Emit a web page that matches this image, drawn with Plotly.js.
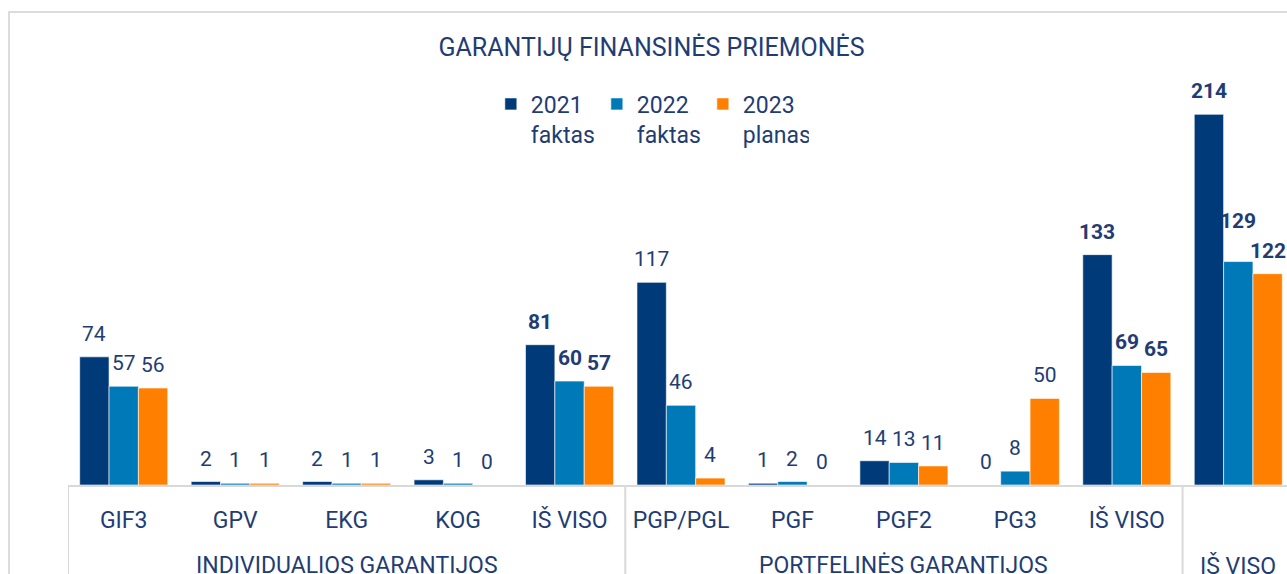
<!DOCTYPE html>
<html>
<head>
<meta charset="utf-8">
<script src="https://cdn.plot.ly/plotly-3.0.1.min.js"></script>
<style>
html,body{margin:0;padding:0;background:#fff;overflow:hidden;width:1287px;height:574px;}
#frame{position:absolute;left:8px;top:11px;border:2px solid #dcdcdc;width:1320px;height:640px;}
#chart{position:absolute;left:0;top:0;}
</style>
</head>
<body>
<div id="frame"><div id="chart"></div></div>
<script>
// ---- data ----
const categories = ["GIF3","GPV","EKG","KOG","IŠ VISO","PGP/PGL","PGF","PGF2","PG3","IŠ VISO",""];
const groups = ["INDIVIDUALIOS GARANTIJOS","PORTFELINĖS GARANTIJOS","IŠ VISO"];
const groupSizes = [5,5,1];
const isTotal = [false,false,false,false,true,false,false,false,false,true,true];
const seriesNames = ["2021<br>faktas","2022<br>faktas","2023<br>planas"];
const v2021 = [74,2,2,3,81,117,1,14,0,133,214];
const v2022 = [57,1,1,1,60,46,2,13,8,69,129];
const v2023 = [56,1,1,0,57,4,0,11,50,65,122];
const colors = ["#003a79","#0079b9","#ff7f00"];

const txtColor = "#1f3d73";
const font = "Roboto, 'Open Sans', sans-serif";
const FS = 23, NFS = 21;
const xs = categories.map((c,i)=>i);
const series = [v2021,v2022,v2023];
const bargap = 0.21;

// layout geometry
const W = 1295, H = 620, M = {l:58, r:10.5, t:38.5, b:148};
const yMax = 250;
const plotW = W - M.l - M.r, plotH = H - M.t - M.b;
const pxPerY = plotH / yMax, pxPerX = plotW / categories.length;

const traces = series.map((vals,k)=>({
  type:"bar",
  name: seriesNames[k],
  x: xs,
  y: vals,
  marker:{color:colors[k], line:{color:"#ffffff", width:0.6}},
  hoverinfo:"x+y"
}));

const annotations = [];
const shapes = [];

// value labels above bars, with simple collision avoidance (lift a label over its right neighbour)
const w = (1 - bargap) / series.length;
const baseShift = 9, capH = 0.72 * NFS, labelGap = 15;
categories.forEach((c,i)=>{
  const shifts = [];
  for (let k = series.length-1; k >= 0; k--) {
    const v = series[k][i];
    let shift = baseShift;
    if (k < series.length-1) {
      const vr = series[k+1][i];
      const wl = String(v).length * 0.58 * NFS, wr = String(vr).length * 0.58 * NFS;
      const dx = w * pxPerX;
      const rightTop = vr * pxPerY + shifts[k+1] + capH + 6;
      const myBottom = v * pxPerY + shift + 6;
      if (dx < (wl + wr)/2 && myBottom < rightTop + 4) {
        shift = rightTop + labelGap - v * pxPerY - 6;
      }
    }
    shifts[k] = shift;
  }
  series.forEach((vals,k)=>{
    const v = vals[i];
    annotations.push({
      text: isTotal[i] ? "<b>"+v+"</b>" : String(v),
      x: i + (k - (series.length-1)/2) * w, xref:"x",
      y: v, yref:"y", yanchor:"bottom", yshift:shifts[k], showarrow:false,
      font:{family:font, size:NFS, color:txtColor}
    });
  });
});

// group labels & separators
let start = 0;
groups.forEach((g,gi)=>{
  const n = groupSizes[gi];
  annotations.push({
    text:g, x:start + (n-1)/2, xref:"x", y:0, yref:"paper",
    yanchor:"top", yshift:-65, showarrow:false,
    font:{family:font, size:FS, color:txtColor}
  });
  shapes.push({type:"line", xref:"x", yref:"paper", x0:start-0.5, x1:start-0.5, y0:0, y1:-0.4,
    line:{color:"#d9d9d9", width:2}});
  start += n;
});

const layout = {
  width:W, height:H,
  margin:{l:M.l, r:M.r, t:M.t, b:M.b, autoexpand:false},
  paper_bgcolor:"rgba(0,0,0,0)", plot_bgcolor:"rgba(0,0,0,0)",
  title:{text:"GARANTIJŲ FINANSINĖS PRIEMONĖS", font:{family:font, size:25, color:txtColor},
    x:0.4954, xref:"container", xanchor:"center", y:1, yref:"container", yanchor:"top", pad:{t:25}},
  barmode:"group", bargap:bargap, bargroupgap:0,
  showlegend:true,
  legend:{orientation:"h", x:0.3449, xanchor:"left", xref:"paper", y:0.9296, yref:"paper", yanchor:"top",
    font:{family:font, size:FS, color:txtColor}, valign:"top", entrywidth:61, entrywidthmode:"pixels",
    itemclick:false, bgcolor:"rgba(0,0,0,0)", tracegroupgap:0, traceorder:"normal"},
  xaxis:{range:[-0.5,categories.length-0.5], tickvals:xs, ticktext:categories, showgrid:false, zeroline:false,
    showline:true, linecolor:"#d9d9d9", linewidth:2, ticks:"outside", ticklen:13, tickcolor:"rgba(0,0,0,0)",
    tickfont:{family:font, size:FS, color:txtColor}, fixedrange:true},
  yaxis:{range:[0,yMax], visible:false, fixedrange:true},
  annotations: annotations,
  shapes: shapes
};

Plotly.newPlot("chart", traces, layout, {displayModeBar:false, staticPlot:true});
</script>
</body>
</html>
